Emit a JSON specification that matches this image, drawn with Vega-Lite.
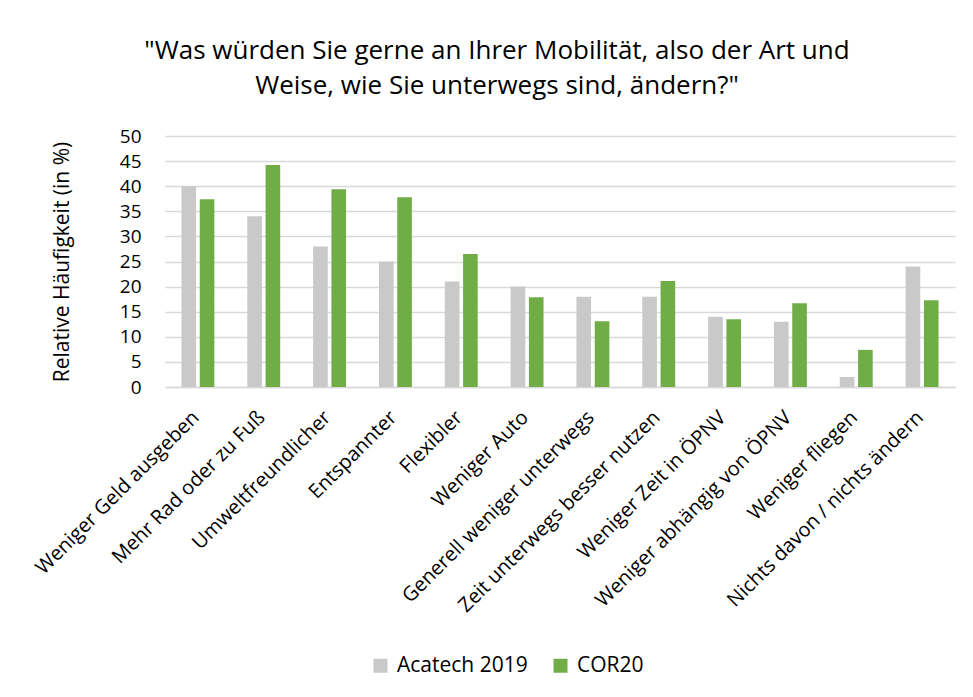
{
  "$schema": "https://vega.github.io/schema/vega-lite/v6.json",
  "width": 790,
  "height": 251,
  "autosize": {"type": "none"},
  "padding": {"left": 165, "top": 136, "right": 18, "bottom": 310},
  "background": "white",
  "title": {
    "text": ["\"Was würden Sie gerne an Ihrer Mobilität, also der Art und", "Weise, wie Sie unterwegs sind, ändern?\""],
    "anchor": "middle",
    "frame": "group",
    "dx": -63,
    "offset": 28,
    "font": "Open Sans",
    "fontSize": 26,
    "fontWeight": "normal",
    "lineHeight": 35,
    "color": "#000000"
  },
  "data": {
    "values": [
      {"cat": "Weniger Geld ausgeben", "series": "Acatech 2019", "value": 40},
      {"cat": "Weniger Geld ausgeben", "series": "COR20", "value": 37.4},
      {"cat": "Mehr Rad oder zu Fuß", "series": "Acatech 2019", "value": 34},
      {"cat": "Mehr Rad oder zu Fuß", "series": "COR20", "value": 44.2},
      {"cat": "Umweltfreundlicher", "series": "Acatech 2019", "value": 28},
      {"cat": "Umweltfreundlicher", "series": "COR20", "value": 39.4},
      {"cat": "Entspannter", "series": "Acatech 2019", "value": 25},
      {"cat": "Entspannter", "series": "COR20", "value": 37.8},
      {"cat": "Flexibler", "series": "Acatech 2019", "value": 21},
      {"cat": "Flexibler", "series": "COR20", "value": 26.5},
      {"cat": "Weniger Auto", "series": "Acatech 2019", "value": 20},
      {"cat": "Weniger Auto", "series": "COR20", "value": 17.9},
      {"cat": "Generell weniger unterwegs", "series": "Acatech 2019", "value": 18},
      {"cat": "Generell weniger unterwegs", "series": "COR20", "value": 13.1},
      {"cat": "Zeit unterwegs besser nutzen", "series": "Acatech 2019", "value": 18},
      {"cat": "Zeit unterwegs besser nutzen", "series": "COR20", "value": 21.1},
      {"cat": "Weniger Zeit in ÖPNV", "series": "Acatech 2019", "value": 14},
      {"cat": "Weniger Zeit in ÖPNV", "series": "COR20", "value": 13.5},
      {"cat": "Weniger abhängig von ÖPNV", "series": "Acatech 2019", "value": 13},
      {"cat": "Weniger abhängig von ÖPNV", "series": "COR20", "value": 16.7},
      {"cat": "Weniger fliegen", "series": "Acatech 2019", "value": 2},
      {"cat": "Weniger fliegen", "series": "COR20", "value": 7.4},
      {"cat": "Nichts davon / nichts ändern", "series": "Acatech 2019", "value": 24},
      {"cat": "Nichts davon / nichts ändern", "series": "COR20", "value": 17.3}
    ]
  },
  "mark": {"type": "bar"},
  "encoding": {
    "x": {
      "field": "cat",
      "type": "nominal",
      "sort": null,
      "scale": {"paddingInner": 0.5, "paddingOuter": 0.25},
      "axis": {
        "title": null,
        "labelAngle": -45,
        "labelFont": "Open Sans",
        "labelFontSize": 20,
        "labelColor": "#000000",
        "labelPadding": 20,
        "labelOffset": -9,
        "labelLimit": 400,
        "ticks": false,
        "domain": true,
        "domainColor": "#D9D9D9",
        "domainWidth": 1.5
      }
    },
    "xOffset": {
      "field": "series",
      "type": "nominal",
      "scale": {"paddingInner": 0.2, "paddingOuter": 0}
    },
    "y": {
      "field": "value",
      "type": "quantitative",
      "scale": {"domain": [0, 50], "nice": false},
      "axis": {
        "title": "Relative Häufigkeit (in %)",
        "titleFont": "Open Sans",
        "titleFontSize": 21,
        "titleFontWeight": "normal",
        "titleColor": "#000000",
        "titleX": -103,
        "titleBaseline": "middle",
        "values": [0, 5, 10, 15, 20, 25, 30, 35, 40, 45, 50],
        "labelFont": "Open Sans",
        "labelFontSize": 19,
        "labelColor": "#000000",
        "labelPadding": 24,
        "ticks": false,
        "domain": false,
        "grid": true,
        "gridColor": "#D9D9D9",
        "gridWidth": 1.5
      }
    },
    "color": {
      "field": "series",
      "type": "nominal",
      "scale": {"domain": ["Acatech 2019", "COR20"], "range": ["#C9C9C9", "#70AD47"]},
      "legend": {
        "title": null,
        "orient": "none",
        "direction": "horizontal",
        "legendX": 205,
        "legendY": 519,
        "symbolType": "square",
        "symbolSize": 196,
        "symbolStrokeWidth": 0,
        "labelFont": "Open Sans",
        "labelFontSize": 21,
        "labelColor": "#000000",
        "columnPadding": 22,
        "labelOffset": 6
      }
    }
  },
  "config": {"view": {"stroke": null}}
}
